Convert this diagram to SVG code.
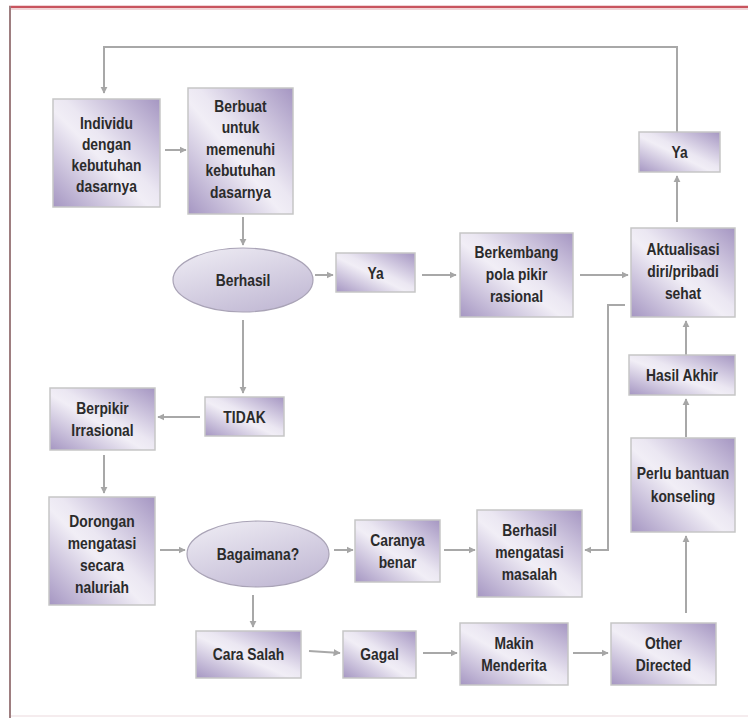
<svg xmlns="http://www.w3.org/2000/svg" width="748" height="718" viewBox="0 0 748 718">
  <defs>
    <linearGradient id="boxg" x1="0" y1="1" x2="1" y2="0">
      <stop offset="0" stop-color="#a596c2"/>
      <stop offset="0.45" stop-color="#f1eef6"/>
      <stop offset="0.55" stop-color="#ebe7f2"/>
      <stop offset="1" stop-color="#a596c2"/>
    </linearGradient>
    <linearGradient id="ellg" x1="0" y1="0" x2="0.6" y2="1">
      <stop offset="0" stop-color="#f0eef5"/>
      <stop offset="1" stop-color="#c4bcd6"/>
    </linearGradient>
    <marker id="arr" viewBox="0 0 10 10" refX="9" refY="5" markerWidth="3.6" markerHeight="3.6" orient="auto" markerUnits="strokeWidth">
      <path d="M0,0 L10,5 L0,10 z" fill="#a6a6a6"/>
    </marker>
  </defs>
  <style>
    .box { fill: url(#boxg); stroke: #c6c6c6; stroke-width: 1.5; }
    .ell { fill: url(#ellg); stroke: #a9a3b6; stroke-width: 1.2; }
    .t { font-family: 'Liberation Sans Narrow', 'Liberation Sans', Arial, sans-serif; font-weight: bold; font-size: 16.5px; fill: #2b2b2b; text-anchor: middle; }
    .ca { fill: none; stroke: #a8a8a8; stroke-width: 2; marker-end: url(#arr); }
  </style>
  <rect x="0" y="0" width="748" height="718" fill="#ffffff"/>
  <line x1="9" y1="7" x2="748" y2="7" stroke="#c8545e" stroke-width="2.5"/>
  <line x1="11" y1="9.5" x2="748" y2="9.5" stroke="#f0d6d8" stroke-width="1"/>
  <line x1="10" y1="6" x2="10" y2="718" stroke="#9e7e80" stroke-width="2"/>
  <line x1="11" y1="716" x2="748" y2="716" stroke="#f2e6e8" stroke-width="1.5"/>

  <g id="connectors">
    <polyline class="ca" points="677,132 677,47 104,47 104,93"/>
    <line class="ca" x1="165" y1="150" x2="186" y2="150"/>
    <line class="ca" x1="243" y1="217" x2="243" y2="245"/>
    <line class="ca" x1="315" y1="275" x2="333" y2="275"/>
    <line class="ca" x1="422" y1="275" x2="456" y2="275"/>
    <line class="ca" x1="580" y1="275" x2="628" y2="275"/>
    <line class="ca" x1="677" y1="222" x2="677" y2="176"/>
    <line class="ca" x1="686" y1="355" x2="686" y2="321"/>
    <line class="ca" x1="686" y1="437" x2="686" y2="399"/>
    <line class="ca" x1="686" y1="613" x2="686" y2="536"/>
    <line class="ca" x1="243" y1="320" x2="243" y2="393"/>
    <line class="ca" x1="200" y1="417" x2="158" y2="417"/>
    <line class="ca" x1="104" y1="455" x2="104" y2="493"/>
    <line class="ca" x1="160" y1="550" x2="185" y2="550"/>
    <line class="ca" x1="334" y1="550" x2="353" y2="550"/>
    <line class="ca" x1="444" y1="550" x2="475" y2="550"/>
    <polyline class="ca" points="625,305 608,305 608,550 585,550"/>
    <line class="ca" x1="253" y1="595" x2="253" y2="627"/>
    <line class="ca" x1="309" y1="651" x2="340" y2="653"/>
    <line class="ca" x1="423" y1="653" x2="457" y2="653"/>
    <line class="ca" x1="573" y1="653" x2="608" y2="653"/>
  </g>

  <g id="individu">
    <rect class="box" x="53" y="99" width="107" height="108"/>
    <g transform="translate(106.5 0) scale(0.84 1)">
      <text class="t" x="0" y="129">Individu</text>
      <text class="t" x="0" y="150">dengan</text>
      <text class="t" x="0" y="171">kebutuhan</text>
      <text class="t" x="0" y="192">dasarnya</text>
    </g>
  </g>
  <g id="berbuat">
    <rect class="box" x="188" y="88" width="105" height="126"/>
    <g transform="translate(240.5 0) scale(0.84 1)">
      <text class="t" x="0" y="112">Berbuat</text>
      <text class="t" x="0" y="133.5">untuk</text>
      <text class="t" x="0" y="155">memenuhi</text>
      <text class="t" x="0" y="176.5">kebutuhan</text>
      <text class="t" x="0" y="198">dasarnya</text>
    </g>
  </g>
  <g id="ya-atas">
    <rect class="box" x="639" y="132" width="81" height="40"/>
    <g transform="translate(679.5 0) scale(0.84 1)"><text class="t" x="0" y="158">Ya</text></g>
  </g>
  <g id="berhasil">
    <ellipse class="ell" cx="243" cy="280" rx="70" ry="32"/>
    <g transform="translate(243 0) scale(0.84 1)"><text class="t" x="0" y="286">Berhasil</text></g>
  </g>
  <g id="ya">
    <rect class="box" x="336" y="253" width="79" height="39"/>
    <g transform="translate(375.5 0) scale(0.84 1)"><text class="t" x="0" y="279">Ya</text></g>
  </g>
  <g id="berkembang">
    <rect class="box" x="460" y="233" width="113" height="84"/>
    <g transform="translate(516.5 0) scale(0.84 1)">
      <text class="t" x="0" y="258">Berkembang</text>
      <text class="t" x="0" y="280">pola pikir</text>
      <text class="t" x="0" y="302">rasional</text>
    </g>
  </g>
  <g id="aktualisasi">
    <rect class="box" x="631" y="228" width="104" height="89"/>
    <g transform="translate(683 0) scale(0.84 1)">
      <text class="t" x="0" y="255">Aktualisasi</text>
      <text class="t" x="0" y="277">diri/pribadi</text>
      <text class="t" x="0" y="299">sehat</text>
    </g>
  </g>
  <g id="tidak">
    <rect class="box" x="205" y="397" width="79" height="39"/>
    <g transform="translate(244.5 0) scale(0.84 1)"><text class="t" x="0" y="423">TIDAK</text></g>
  </g>
  <g id="berpikir">
    <rect class="box" x="50" y="388" width="105" height="62"/>
    <g transform="translate(102.5 0) scale(0.84 1)">
      <text class="t" x="0" y="414">Berpikir</text>
      <text class="t" x="0" y="436">Irrasional</text>
    </g>
  </g>
  <g id="hasil-akhir">
    <rect class="box" x="629" y="355" width="106" height="40"/>
    <g transform="translate(682 0) scale(0.84 1)"><text class="t" x="0" y="381">Hasil Akhir</text></g>
  </g>
  <g id="perlu-bantuan">
    <rect class="box" x="631" y="438" width="104" height="94"/>
    <g transform="translate(683 0) scale(0.84 1)">
      <text class="t" x="0" y="479">Perlu bantuan</text>
      <text class="t" x="0" y="502">konseling</text>
    </g>
  </g>
  <g id="dorongan">
    <rect class="box" x="49" y="497" width="106" height="108"/>
    <g transform="translate(102 0) scale(0.84 1)">
      <text class="t" x="0" y="527">Dorongan</text>
      <text class="t" x="0" y="549">mengatasi</text>
      <text class="t" x="0" y="571">secara</text>
      <text class="t" x="0" y="593">naluriah</text>
    </g>
  </g>
  <g id="bagaimana">
    <ellipse class="ell" cx="258" cy="554" rx="71" ry="33"/>
    <g transform="translate(258 0) scale(0.84 1)"><text class="t" x="0" y="560">Bagaimana?</text></g>
  </g>
  <g id="caranya-benar">
    <rect class="box" x="355" y="520" width="85" height="62"/>
    <g transform="translate(397.5 0) scale(0.84 1)">
      <text class="t" x="0" y="546">Caranya</text>
      <text class="t" x="0" y="568">benar</text>
    </g>
  </g>
  <g id="berhasil-mengatasi">
    <rect class="box" x="477" y="510" width="105" height="87"/>
    <g transform="translate(529.5 0) scale(0.84 1)">
      <text class="t" x="0" y="536">Berhasil</text>
      <text class="t" x="0" y="558">mengatasi</text>
      <text class="t" x="0" y="580">masalah</text>
    </g>
  </g>
  <g id="cara-salah">
    <rect class="box" x="196" y="631" width="105" height="47"/>
    <g transform="translate(248.5 0) scale(0.84 1)"><text class="t" x="0" y="660">Cara Salah</text></g>
  </g>
  <g id="gagal">
    <rect class="box" x="343" y="631" width="73" height="47"/>
    <g transform="translate(379.5 0) scale(0.84 1)"><text class="t" x="0" y="660">Gagal</text></g>
  </g>
  <g id="makin-menderita">
    <rect class="box" x="460" y="623" width="108" height="62"/>
    <g transform="translate(514 0) scale(0.84 1)">
      <text class="t" x="0" y="649">Makin</text>
      <text class="t" x="0" y="671">Menderita</text>
    </g>
  </g>
  <g id="other-directed">
    <rect class="box" x="611" y="623" width="105" height="62"/>
    <g transform="translate(663.5 0) scale(0.84 1)">
      <text class="t" x="0" y="649">Other</text>
      <text class="t" x="0" y="671">Directed</text>
    </g>
  </g>
</svg>
